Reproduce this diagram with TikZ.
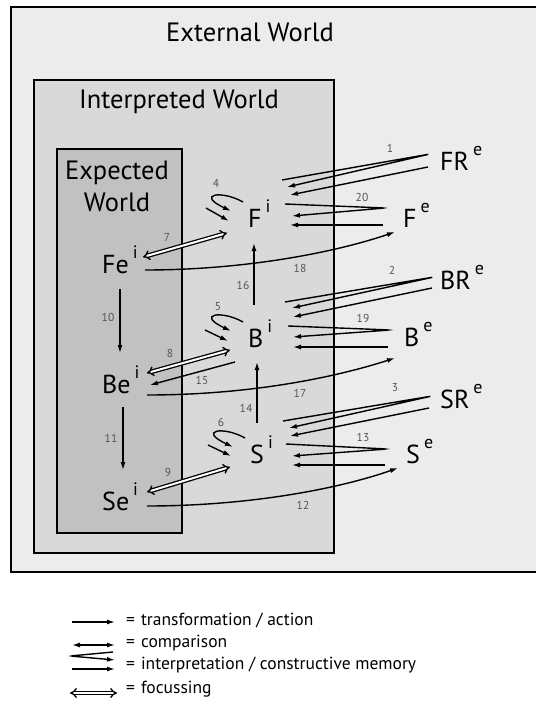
\documentclass[tikz,border=0pt]{standalone}
\usepackage{fontspec}
\setmainfont{PT Sans}
\usetikzlibrary{arrows.meta}
\definecolor{outerfill}{gray}{0.925}
\definecolor{interfill}{gray}{0.85}
\definecolor{expfill}{gray}{0.755}
\definecolor{numgray}{gray}{0.33}
\newcommand\supx[1]{\hspace{4pt}\raisebox{15pt}{\fontsize{18}{18}\selectfont #1}}
\begin{document}
\begin{tikzpicture}[x=1pt,y=-1pt,
  frame/.style={draw=black,line width=1.4pt},
  tarrow/.style={line width=1.4pt,-{Latex[length=8pt,width=5pt]}},
  carrow/.style={line width=1.4pt,{Latex[length=8pt,width=5pt]}-{Latex[length=8pt,width=5pt]}},
  hairpin/.style={line width=1.4pt,rounded corners=3pt,-{Latex[length=8pt,width=5pt]}},
  focus/.style={double=white,double distance=2pt,line width=1.3pt,{Implies}-{Implies}},
  numlbl/.style={font=\fontsize{11.5}{11.5}\selectfont,text=numgray,inner sep=0},
  bigname/.style={font=\fontsize{26}{26}\selectfont,anchor=base west,inner sep=0},
  title/.style={font=\fontsize{26.5}{32}\selectfont,inner sep=0},
  legtxt/.style={font=\fontsize{17.5}{17.5}\selectfont,anchor=west,inner sep=0}]
\useasboundingbox (0,0) rectangle (536,704);
\fill[white] (0,0) rectangle (536,704);
% boxes
\fill[outerfill] (11,7) rectangle (536,572);
\draw[frame] (536,7) -- (11,7) -- (11,572) -- (536,572);
\draw[frame,fill=interfill] (34,80) rectangle (334,553);
\draw[frame,fill=expfill] (57,149) rectangle (182,533);
\node[title] (tExt) at (250,32) {External World};
\node[title] (tInt) at (179,102) {Interpreted World};
\node[title,align=center] (tExp) at (117,186) {Expected\\World};
% main nodes
\node[bigname] (Fei) at (102,273) {Fe\supx{i}};
\node[bigname] (Bei) at (102,393) {Be\supx{i}};
\node[bigname] (Sei) at (102,510) {Se\supx{i}};
\node[bigname] (Fi) at (248,227) {F\supx{i}};
\node[bigname] (Bi) at (248,347) {B\supx{i}};
\node[bigname] (Si) at (250,463) {S\supx{i}};
\node[bigname] (FRe) at (440,170) {FR\supx{e}};
\node[bigname] (Fe) at (403,227) {F\supx{e}};
\node[bigname] (BRe) at (440,289) {BR\supx{e}};
\node[bigname] (Be) at (404,346) {B\supx{e}};
\node[bigname] (SRe) at (440,408) {SR\supx{e}};
\node[bigname] (Se) at (406,463) {S\supx{e}};
% endpoint coordinates
\coordinate (c10a) at (120,289); \coordinate (c10b) at (120,353);
\coordinate (c11a) at (123,407); \coordinate (c11b) at (123,470);
\coordinate (c16a) at (254,305); \coordinate (c16b) at (254,243);
\coordinate (c14a) at (257,423); \coordinate (c14b) at (257,362);
\coordinate (c18a) at (145,270); \coordinate (c18b) at (395,232);
\coordinate (c17a) at (147,395); \coordinate (c17b) at (395,358);
\coordinate (c12a) at (147,506); \coordinate (c12b) at (398,468);
\coordinate (c15a) at (235,362); \coordinate (c15b) at (150,385);
\coordinate (c7a) at (143,257); \coordinate (c7b) at (227,233);
\coordinate (c8a) at (147,373); \coordinate (c8b) at (230,350);
\coordinate (c9a) at (147,492); \coordinate (c9b) at (230,467);
% transformation arrows
\draw[tarrow] (c10a) -- (c10b);
\draw[tarrow] (c11a) -- (c11b);
\draw[tarrow] (c16a) -- (c16b);
\draw[tarrow] (c14a) -- (c14b);
\draw[tarrow] (c15a) -- (c15b);
\draw[tarrow] (c18a) .. controls (240,270) and (330,254) .. (c18b);
\draw[tarrow] (c17a) .. controls (245,395) and (330,379) .. (c17b);
\draw[tarrow] (c12a) .. controls (245,506) and (335,490) .. (c12b);
% focussing
\draw[focus] (c7a) -- (c7b);
\draw[focus] (c8a) -- (c8b);
\draw[focus] (c9a) -- (c9b);
% interpretation hairpins
\coordinate (h1a) at (282,180); \coordinate (h1t) at (430,154); \coordinate (h1b) at (287,187);
\coordinate (h1c) at (428,167); \coordinate (h1d) at (290,195);
\draw[hairpin] (h1a) -- (h1t) -- (h1b);
\draw[tarrow] (h1c) -- (h1d);
\coordinate (h20a) at (285,204); \coordinate (h20t) at (385,208); \coordinate (h20b) at (292,216);
\coordinate (h20c) at (383,225); \coordinate (h20d) at (290,225);
\draw[hairpin] (h20a) -- (h20t) -- (h20b);
\draw[tarrow] (h20c) -- (h20d);
\coordinate (h2a) at (285,302); \coordinate (h2t) at (434,277); \coordinate (h2b) at (292,308);
\coordinate (h2c) at (432,288); \coordinate (h2d) at (293,317);
\draw[hairpin] (h2a) -- (h2t) -- (h2b);
\draw[tarrow] (h2c) -- (h2d);
\coordinate (h19a) at (288,326); \coordinate (h19t) at (390,330); \coordinate (h19b) at (293,337);
\coordinate (h19c) at (388,347); \coordinate (h19d) at (293,347);
\draw[hairpin] (h19a) -- (h19t) -- (h19b);
\draw[tarrow] (h19c) -- (h19d);
\coordinate (h3a) at (283,421); \coordinate (h3t) at (432,396); \coordinate (h3b) at (289,428);
\coordinate (h3c) at (429,408); \coordinate (h3d) at (290,436);
\draw[hairpin] (h3a) -- (h3t) -- (h3b);
\draw[tarrow] (h3c) -- (h3d);
\coordinate (h13a) at (286,444); \coordinate (h13t) at (387,449); \coordinate (h13b) at (292,456);
\coordinate (h13c) at (385,465); \coordinate (h13d) at (292,465);
\draw[hairpin] (h13a) -- (h13t) -- (h13b);
\draw[tarrow] (h13c) -- (h13d);
% self loops (constructive memory)
\coordinate (l4a) at (243,202); \coordinate (l4b) at (231,211);
\coordinate (l4c) at (206,208); \coordinate (l4d) at (229,221);
\draw[tarrow] (l4a) .. controls (222,190) and (195,194) .. (l4b);
\draw[tarrow] (l4c) -- (l4d);
\coordinate (l5a) at (243,322); \coordinate (l5b) at (231,331);
\coordinate (l5c) at (205,330); \coordinate (l5d) at (228,341);
\draw[tarrow] (l5a) .. controls (222,310) and (195,314) .. (l5b);
\draw[tarrow] (l5c) -- (l5d);
\coordinate (l6a) at (245,438); \coordinate (l6b) at (233,447);
\coordinate (l6c) at (208,445); \coordinate (l6d) at (231,456);
\draw[tarrow] (l6a) .. controls (224,426) and (197,430) .. (l6b);
\draw[tarrow] (l6c) -- (l6d);
% number labels
\node[numlbl] (n1) at (390,148) {1};
\node[numlbl] (n20) at (362,197) {20};
\node[numlbl] (n2) at (392,270) {2};
\node[numlbl] (n19) at (363,318) {19};
\node[numlbl] (n3) at (395,388) {3};
\node[numlbl] (n13) at (363,437) {13};
\node[numlbl] (n18) at (300,268) {18};
\node[numlbl] (n17) at (300,393) {17};
\node[numlbl] (n12) at (303,505) {12};
\node[numlbl] (n16) at (243,285) {16};
\node[numlbl] (n14) at (246,408) {14};
\node[numlbl] (n15) at (202,380) {15};
\node[numlbl] (n7) at (167,237) {7};
\node[numlbl] (n8) at (170,353) {8};
\node[numlbl] (n9) at (168,472) {9};
\node[numlbl] (n10) at (108,317) {10};
\node[numlbl] (n11) at (111,438) {11};
\node[numlbl] (n4) at (216,183) {4};
\node[numlbl] (n5) at (218,307) {5};
\node[numlbl] (n6) at (221,422) {6};
% legend
\coordinate (g1a) at (72,622); \coordinate (g1b) at (115,622);
\draw[tarrow] (g1a) -- (g1b);
\node[legtxt] (g1) at (126,620) {=\hspace{6pt}transformation / action};
\coordinate (g2a) at (72,645); \coordinate (g2b) at (115,645);
\draw[carrow] (g2a) -- (g2b);
\node[legtxt] (g2) at (126,643) {=\hspace{6pt}comparison};
\coordinate (g3a) at (113,652); \coordinate (g3t) at (70,656); \coordinate (g3b) at (115,660);
\coordinate (g3c) at (72,669); \coordinate (g3d) at (115,669);
\draw[hairpin] (g3a) -- (g3t) -- (g3b);
\draw[tarrow] (g3c) -- (g3d);
\node[legtxt] (g3) at (126,665) {=\hspace{6pt}interpretation / constructive memory};
\coordinate (g4a) at (70,693); \coordinate (g4b) at (117,693);
\draw[focus] (g4a) -- (g4b);
\node[legtxt] (g4) at (126,689) {=\hspace{6pt}focussing};
\end{tikzpicture}
\end{document}
